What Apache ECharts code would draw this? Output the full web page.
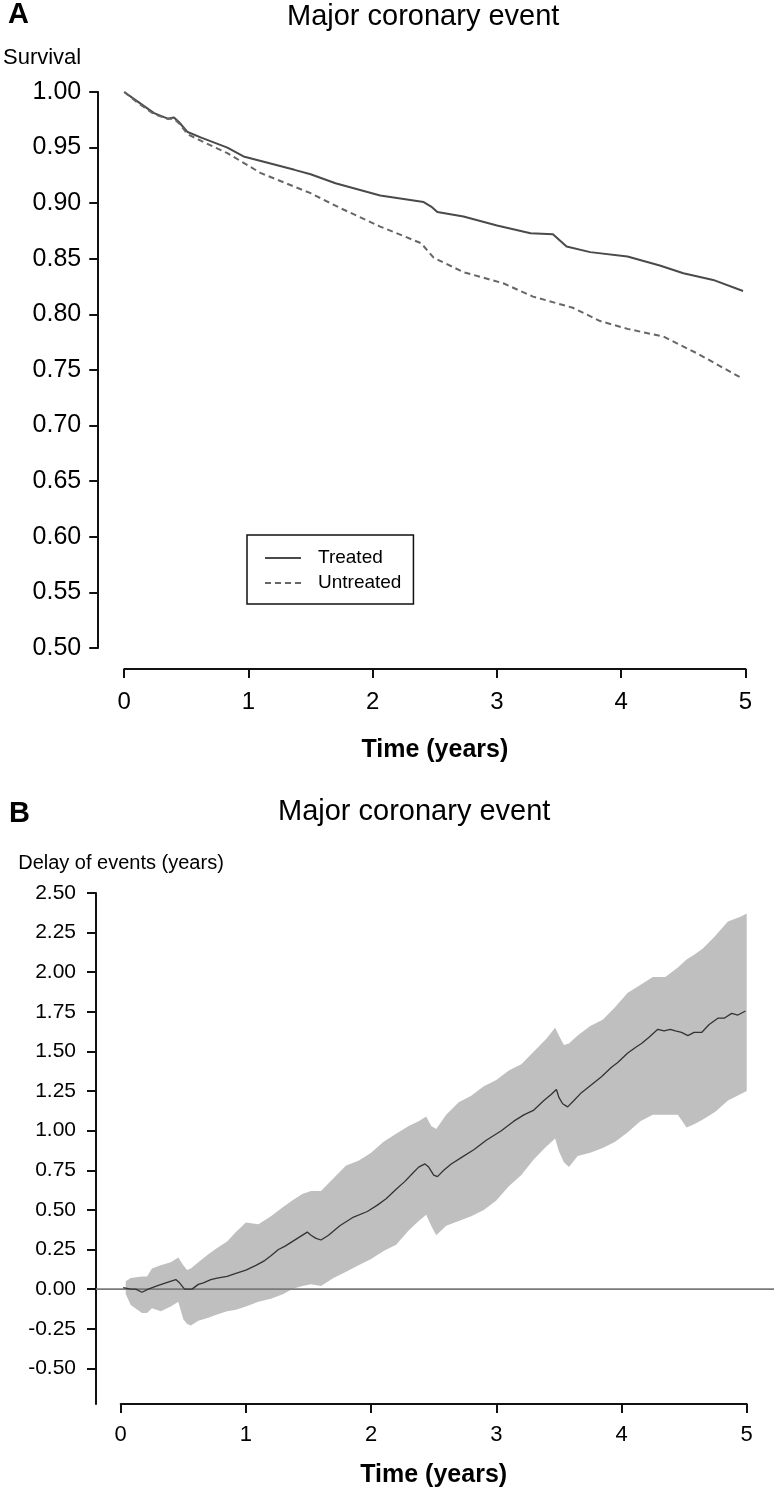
<!DOCTYPE html>
<html>
<head>
<meta charset="utf-8">
<script src="https://cdn.jsdelivr.net/npm/echarts@6/dist/echarts.min.js"></script>
<style>
  html, body { margin: 0; padding: 0; background: #ffffff; }
  #chart { width: 774px; height: 1491px; }
</style>
</head>
<body>
<div id="chart"></div>
<script>
// ---------- Panel A: survival curves ----------
const treatedTime  = [0, 0.10, 0.24, 0.35, 0.40, 0.44, 0.51, 0.62, 0.83, 0.96, 1.10, 1.37, 1.50, 1.70, 2.06, 2.41, 2.47, 2.52, 2.73, 3.00, 3.27, 3.45, 3.56, 3.75, 4.05, 4.31, 4.50, 4.74, 4.98];
const treatedSurv  = [1.000, 0.992, 0.981, 0.976, 0.977, 0.973, 0.964, 0.959, 0.950, 0.942, 0.938, 0.930, 0.926, 0.918, 0.907, 0.901, 0.897, 0.892, 0.888, 0.880, 0.873, 0.872, 0.861, 0.856, 0.852, 0.844, 0.837, 0.831, 0.821];
const untreatedTime = [0, 0.10, 0.24, 0.35, 0.40, 0.44, 0.51, 0.62, 0.83, 1.10, 1.50, 1.75, 2.06, 2.39, 2.49, 2.73, 3.05, 3.29, 3.61, 3.83, 4.05, 4.34, 4.61, 4.98];
const untreatedSurv = [1.000, 0.991, 0.980, 0.976, 0.976, 0.972, 0.962, 0.956, 0.945, 0.927, 0.909, 0.895, 0.879, 0.864, 0.851, 0.838, 0.828, 0.816, 0.806, 0.794, 0.787, 0.780, 0.765, 0.742];
const seriesNames = ['Treated', 'Untreated'];
const xTicks = [0, 1, 2, 3, 4, 5];

// ---------- Panel B: delay of events ----------
const bandTime  = [0.04, 0.08, 0.17, 0.21, 0.25, 0.32, 0.40, 0.46, 0.50, 0.53, 0.56, 0.62, 0.70, 0.77, 0.85, 0.92, 1.00, 1.10, 1.20, 1.30, 1.37, 1.45, 1.52, 1.60, 1.70, 1.80, 1.90, 2.00, 2.10, 2.20, 2.30, 2.38, 2.44, 2.48, 2.52, 2.60, 2.70, 2.80, 2.90, 3.00, 3.10, 3.20, 3.30, 3.40, 3.47, 3.50, 3.54, 3.58, 3.65, 3.75, 3.85, 3.95, 4.05, 4.15, 4.25, 4.35, 4.45, 4.52, 4.58, 4.65, 4.75, 4.85, 4.95, 5.00];
const bandUpper = [0.05, 0.07, 0.08, 0.08, 0.13, 0.15, 0.17, 0.20, 0.15, 0.12, 0.13, 0.17, 0.22, 0.26, 0.30, 0.36, 0.42, 0.41, 0.46, 0.52, 0.56, 0.60, 0.62, 0.62, 0.70, 0.78, 0.81, 0.86, 0.93, 0.98, 1.03, 1.06, 1.09, 1.03, 1.01, 1.10, 1.18, 1.22, 1.28, 1.32, 1.38, 1.42, 1.50, 1.58, 1.65, 1.60, 1.54, 1.55, 1.60, 1.66, 1.70, 1.78, 1.87, 1.92, 1.97, 1.97, 2.03, 2.08, 2.11, 2.15, 2.23, 2.32, 2.35, 2.37];
const bandLower = [-0.03, -0.10, -0.15, -0.15, -0.12, -0.14, -0.11, -0.08, -0.19, -0.22, -0.23, -0.20, -0.18, -0.16, -0.14, -0.13, -0.11, -0.08, -0.06, -0.03, 0.00, 0.02, 0.03, 0.02, 0.07, 0.11, 0.15, 0.19, 0.24, 0.28, 0.37, 0.43, 0.47, 0.40, 0.34, 0.40, 0.43, 0.46, 0.50, 0.56, 0.65, 0.72, 0.82, 0.90, 0.95, 0.87, 0.80, 0.77, 0.84, 0.86, 0.89, 0.93, 0.99, 1.06, 1.10, 1.10, 1.10, 1.02, 1.04, 1.07, 1.12, 1.19, 1.23, 1.25];
const delayTime = [0.02, 0.08, 0.12, 0.17, 0.22, 0.29, 0.36, 0.44, 0.47, 0.51, 0.57, 0.62, 0.66, 0.72, 0.77, 0.85, 0.92, 1.00, 1.08, 1.15, 1.20, 1.26, 1.31, 1.37, 1.43, 1.49, 1.52, 1.56, 1.60, 1.66, 1.75, 1.86, 1.97, 2.05, 2.12, 2.20, 2.27, 2.33, 2.38, 2.43, 2.46, 2.50, 2.53, 2.58, 2.64, 2.72, 2.82, 2.92, 3.04, 3.14, 3.22, 3.30, 3.38, 3.44, 3.48, 3.50, 3.53, 3.57, 3.62, 3.68, 3.76, 3.84, 3.92, 3.97, 4.05, 4.12, 4.16, 4.22, 4.29, 4.34, 4.39, 4.43, 4.48, 4.53, 4.58, 4.64, 4.70, 4.77, 4.82, 4.88, 4.93, 4.99];
const delayValue = [0.01, 0.00, 0.00, -0.02, 0.00, 0.02, 0.04, 0.06, 0.04, 0.00, 0.00, 0.03, 0.04, 0.06, 0.07, 0.08, 0.10, 0.12, 0.15, 0.18, 0.21, 0.25, 0.27, 0.30, 0.33, 0.36, 0.34, 0.32, 0.31, 0.34, 0.40, 0.455, 0.49, 0.53, 0.57, 0.63, 0.68, 0.73, 0.77, 0.79, 0.77, 0.72, 0.71, 0.75, 0.79, 0.83, 0.88, 0.94, 1.00, 1.06, 1.10, 1.13, 1.19, 1.23, 1.26, 1.21, 1.17, 1.15, 1.19, 1.24, 1.29, 1.34, 1.40, 1.43, 1.49, 1.53, 1.55, 1.59, 1.64, 1.63, 1.64, 1.63, 1.62, 1.60, 1.62, 1.62, 1.67, 1.71, 1.71, 1.74, 1.73, 1.755];
const yTicksB = [-0.50, -0.25, 0.00, 0.25, 0.50, 0.75, 1.00, 1.25, 1.50, 1.75, 2.00, 2.25, 2.50];
const referenceLine = [[0, 0], [1, 0]];

const FONT = 'Liberation Sans, Arial, Helvetica, sans-serif';
const axisColor = '#111111';

const pairs = (xs, ys) => xs.map((x, i) => [x, ys[i]]);

const chart = echarts.init(document.getElementById('chart'), null, { renderer: 'canvas' });

function bandRenderItem(params, api) {
  if (params.dataIndex !== 0) return null;
  const pts = [];
  for (let i = 0; i < bandTime.length; i++) pts.push(api.coord([bandTime[i], bandUpper[i]]));
  for (let i = bandTime.length - 1; i >= 0; i--) pts.push(api.coord([bandTime[i], bandLower[i]]));
  return {
    type: 'polygon',
    shape: { points: pts },
    style: { fill: '#bfbfbf', stroke: null }
  };
}

const axisLineStyle = { show: true, onZero: false, lineStyle: { color: axisColor, width: 2 } };
const tickStyle = { show: true, inside: false, length: 9, lineStyle: { color: axisColor, width: 2 } };

const option = {
  animation: false,
  backgroundColor: '#ffffff',
  textStyle: { fontFamily: FONT, color: '#000' },
  title: [
    { text: 'A', left: 8, top: 0, padding: 0, textStyle: { fontFamily: FONT, fontSize: 29, fontWeight: 'bold', color: '#000', lineHeight: 30 } },
    { text: 'Major coronary event', left: 287, top: 2, padding: 0, textStyle: { fontFamily: FONT, fontSize: 29, fontWeight: 'normal', color: '#000', lineHeight: 30 } },
    { text: 'B', left: 9, top: 799, padding: 0, textStyle: { fontFamily: FONT, fontSize: 29, fontWeight: 'bold', color: '#000', lineHeight: 30 } },
    { text: 'Major coronary event', left: 278, top: 797, padding: 0, textStyle: { fontFamily: FONT, fontSize: 29, fontWeight: 'normal', color: '#000', lineHeight: 30 } }
  ],
  legend: {
    data: seriesNames,
    orient: 'vertical',
    left: 247,
    top: 535,
    padding: [13, 12, 11, 17],
    itemWidth: 36,
    itemHeight: 14,
    itemGap: 5,
    itemStyle: { opacity: 0 },
    borderColor: '#111',
    borderWidth: 1.5,
    borderRadius: 0,
    textStyle: { fontFamily: FONT, fontSize: 19, color: '#000', lineHeight: 20, padding: [0, 0, 0, 12] }
  },
  grid: [
    { left: 123, right: 28.5, top: 92, height: 556 },
    { left: 120.7, right: 27.3, top: 893, bottom: 87 },
    { left: 96, right: 0, top: 893, bottom: 87 }
  ],
  xAxis: [
    {
      gridIndex: 0, type: 'value', min: 0, max: 5, interval: 1, offset: 21,
      name: 'Time (years)', nameLocation: 'middle', nameGap: 67,
      nameTextStyle: { fontFamily: FONT, fontSize: 25, fontWeight: 'bold', color: '#000', lineHeight: 28 },
      axisLine: axisLineStyle,
      axisTick: tickStyle,
      axisLabel: { margin: 21, fontSize: 24, color: '#000', fontFamily: FONT },
      splitLine: { show: false }
    },
    {
      gridIndex: 1, type: 'value', min: 0, max: 5, interval: 1, offset: 0,
      name: 'Time (years)', nameLocation: 'middle', nameGap: 57,
      nameTextStyle: { fontFamily: FONT, fontSize: 25, fontWeight: 'bold', color: '#000', lineHeight: 28 },
      axisLine: axisLineStyle,
      axisTick: tickStyle,
      axisLabel: { margin: 20, fontSize: 22, color: '#000', fontFamily: FONT },
      splitLine: { show: false }
    },
    { gridIndex: 2, type: 'value', min: 0, max: 1, show: false }
  ],
  yAxis: [
    {
      gridIndex: 0, type: 'value', min: 0.5, max: 1.0, interval: 0.05, offset: 26,
      name: 'Survival', nameLocation: 'end', nameGap: 34,
      nameTextStyle: { fontFamily: FONT, fontSize: 22, color: '#000', align: 'right', verticalAlign: 'middle', padding: [0, 17, 0, 0] },
      axisLine: axisLineStyle,
      axisTick: tickStyle,
      axisLabel: { margin: 17, fontSize: 25, color: '#000', fontFamily: FONT, formatter: v => v.toFixed(2) },
      splitLine: { show: false }
    },
    {
      gridIndex: 1, type: 'value', min: -0.725, max: 2.5, offset: 24.7,
      name: 'Delay of events (years)', nameLocation: 'end', nameGap: 30,
      nameTextStyle: { fontFamily: FONT, fontSize: 20, color: '#000', align: 'center', verticalAlign: 'middle', padding: [0, 0, 0, 50] },
      axisLine: axisLineStyle,
      axisTick: Object.assign({}, tickStyle, { customValues: yTicksB }),
      axisLabel: { margin: 20, fontSize: 21, color: '#000', fontFamily: FONT, customValues: yTicksB, formatter: v => v.toFixed(2) },
      splitLine: { show: false }
    },
    { gridIndex: 2, type: 'value', min: -0.725, max: 2.5, show: false }
  ],
  series: [
    {
      name: 'Treated', type: 'line', xAxisIndex: 0, yAxisIndex: 0,
      data: pairs(treatedTime, treatedSurv),
      symbol: 'none', showSymbol: false,
      lineStyle: { color: '#4a4a4a', width: 2, type: 'solid' },
      itemStyle: { color: '#4a4a4a' },
      z: 3
    },
    {
      name: 'Untreated', type: 'line', xAxisIndex: 0, yAxisIndex: 0,
      data: pairs(untreatedTime, untreatedSurv),
      symbol: 'none', showSymbol: false,
      lineStyle: { color: '#666666', width: 2, type: [6, 4] },
      itemStyle: { color: '#666666' },
      z: 3
    },
    {
      name: 'CI band', type: 'custom', xAxisIndex: 1, yAxisIndex: 1,
      data: [[bandTime[0], bandLower[0]]],
      renderItem: bandRenderItem,
      silent: true, z: 2
    },
    {
      name: 'zero', type: 'line', xAxisIndex: 2, yAxisIndex: 2,
      data: referenceLine,
      symbol: 'none', showSymbol: false,
      lineStyle: { color: '#7a7a7a', width: 1.6 },
      silent: true, z: 3
    },
    {
      name: 'Delay', type: 'line', xAxisIndex: 1, yAxisIndex: 1,
      data: pairs(delayTime, delayValue),
      symbol: 'none', showSymbol: false,
      lineStyle: { color: '#333333', width: 1.3 },
      silent: true, z: 4
    }
  ]
};

chart.setOption(option);
</script>
</body>
</html>
